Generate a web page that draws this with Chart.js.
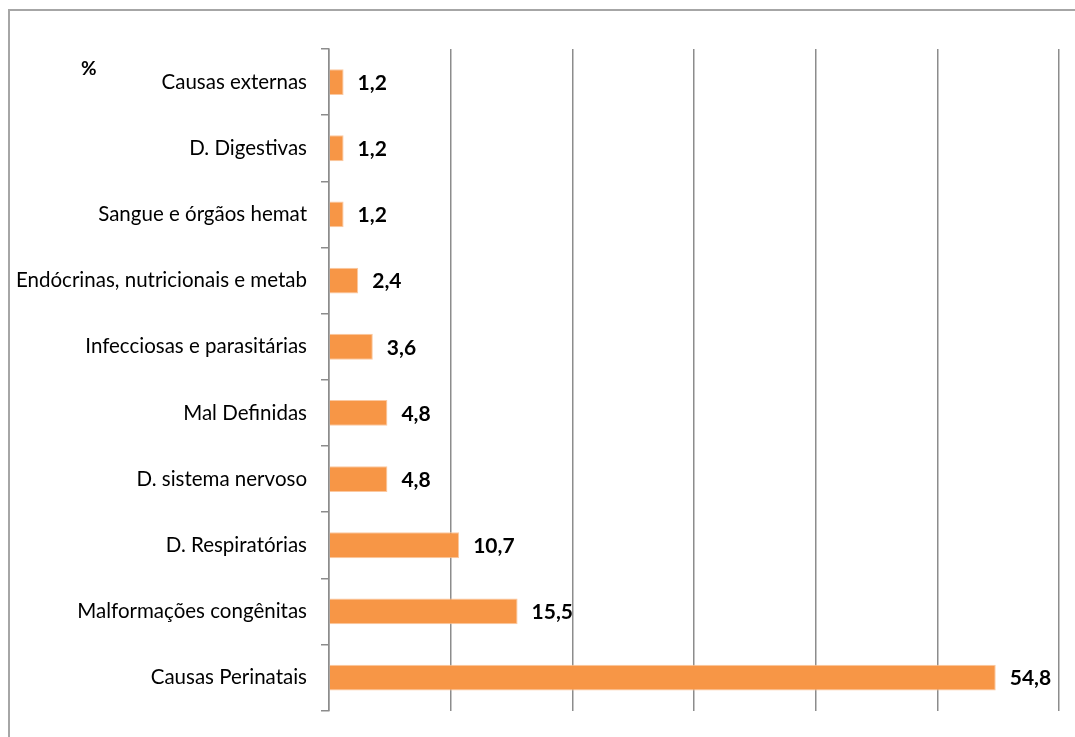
<!DOCTYPE html>
<html>
<head>
<meta charset="utf-8">
<script src="https://cdn.jsdelivr.net/npm/chart.js@4/dist/chart.umd.min.js"></script>
<style>
	body { margin: 0; background: #fff; overflow: hidden; }
	#frame {
		position: absolute; left: 8px; top: 9px;
		width: 1200px; height: 900px;
		border: 2px solid #a6a6a6;
	}
	#chart { position: absolute; left: 0; top: 0; }
	#unit {
		position: absolute; left: 81px; top: 56px;
		font: bold 19px Lato, sans-serif; color: #000;
	}
</style>
</head>
<body>
<div id="frame"></div>
<canvas id="chart" width="1075" height="737"></canvas>
<div id="unit">%</div>
<script>
const causas = [
	'Causas externas',
	'D. Digestivas',
	'Sangue e órgãos hemat',
	'Endócrinas, nutricionais e metab',
	'Infecciosas e parasitárias',
	'Mal Definidas',
	'D. sistema nervoso',
	'D. Respiratórias',
	'Malformações congênitas',
	'Causas Perinatais',
];
const percentuais = [1.2, 1.2, 1.2, 2.4, 3.6, 4.8, 4.8, 10.7, 15.5, 54.8];

// valor em negrito ao lado de cada barra, com vírgula decimal
const rotulosValor = {
	id: 'rotulosValor',
	afterDatasetsDraw(chart) {
		const ctx = chart.ctx;
		const meta = chart.getDatasetMeta(0);
		ctx.save();
		ctx.font = 'bold 21px Lato, sans-serif';
		ctx.fillStyle = '#000';
		ctx.textAlign = 'left';
		ctx.textBaseline = 'middle';
		meta.data.forEach((bar, i) => {
			const txt = percentuais[i].toFixed(1).replace('.', ',');
			ctx.fillText(txt, bar.x + 14, bar.y + 1);
		});
		ctx.restore();
	},
};

const config = {
	type: 'bar',
	data: {
		labels: causas,
		datasets: [
			{
				data: percentuais,
				backgroundColor: '#f79646',
				borderColor: '#fbc8a0',
				borderWidth: 1,
				borderSkipped: 'left',
				categoryPercentage: 1,
				barPercentage: 0.39,
			},
		],
	},
	options: {
		indexAxis: 'y',
		responsive: false,
		animation: false,
		layout: { padding: { top: 49, right: 16, bottom: 20, left: 0 } },
		plugins: {
			legend: { display: false },
			tooltip: { enabled: false },
		},
		scales: {
			x: {
				min: 0,
				max: 60,
				afterFit(scale) { scale.height = 0; },
				ticks: { display: false, stepSize: 10 },
				grid: { color: '#8c8c8c', lineWidth: 1.5, drawTicks: false },
				border: { display: false },
			},
			y: {
				afterFit(scale) { scale.width = 329; },
				ticks: {
					color: '#000',
					padding: 14,
					font: { family: 'Lato, sans-serif', size: 20.5 },
				},
				grid: {
					offset: true,
					drawOnChartArea: false,
					drawTicks: true,
					tickLength: 8,
					color: '#8c8c8c',
					lineWidth: 1.5,
				},
				border: { color: '#8c8c8c', width: 1.5 },
			},
		},
	},
	plugins: [rotulosValor],
};

new Chart(document.getElementById('chart'), config);
</script>
</body>
</html>
